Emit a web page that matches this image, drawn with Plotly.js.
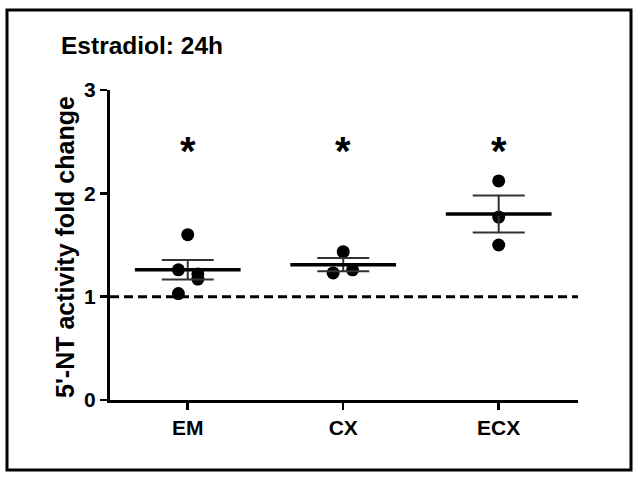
<!DOCTYPE html>
<html>
<head>
<meta charset="utf-8">
<script src="https://cdn.plot.ly/plotly-3.0.1.min.js"></script>
<style>html,body{margin:0;padding:0;background:#fff;}#chart{width:638px;height:479px;}</style>
</head>
<body>
<div id="chart"></div>
<script>
// ---- data ----
const categories = ["EM", "CX", "ECX"];
const emValues  = [1.60, 1.26, 1.22, 1.17, 1.03];
const emJitter  = [0.00, -0.06, 0.065, 0.065, -0.06];
const cxValues  = [1.435, 1.23, 1.26];
const cxJitter  = [0.00, -0.065, 0.06];
const ecxValues = [2.12, 1.77, 1.50];
const ecxJitter = [0.00, 0.00, 0.00];
const means = [1.26, 1.31, 1.80];
const sems  = [0.095, 0.065, 0.18];
const stars = ["*", "*", "*"];
const starLevel = 2.45;
const baseline = 1;
const yTicks = [0, 1, 2, 3];

const FONT = "Liberation Sans, Arial, sans-serif";
const groups = [[emValues, emJitter], [cxValues, cxJitter], [ecxValues, ecxJitter]];

const traces = [];
groups.forEach(function (g, i) {
  traces.push({
    type: "scatter", mode: "markers",
    x: g[1].map(function (j) { return i + j; }),
    y: g[0],
    marker: {color: "#000", size: 13},
    hoverinfo: "skip", showlegend: false, cliponaxis: false
  });
});
traces.push({
  type: "scatter", mode: "markers",
  x: categories.map(function (c, i) { return i; }),
  y: means,
  marker: {size: 1, opacity: 0},
  error_y: {type: "data", array: sems, visible: true, color: "#333", thickness: 2, width: 26},
  hoverinfo: "skip", showlegend: false
});
const half = 0.34;
const mx = [], my = [];
means.forEach(function (m, i) { mx.push(i - half, i + half, null); my.push(m, m, null); });
traces.push({
  type: "scatter", mode: "lines", x: mx, y: my,
  line: {color: "#000", width: 3.5}, hoverinfo: "skip", showlegend: false
});

const annotations = stars.map(function (s, i) {
  return {x: i, y: starLevel, xref: "x", yref: "y", text: s, showarrow: false, yshift: -4,
          font: {family: FONT, size: 40, color: "#000", weight: "bold"}, yanchor: "middle"};
});
annotations.push({
  text: "5'-NT activity fold change", textangle: -90, showarrow: false,
  xref: "paper", yref: "paper", x: (65 - 110) / 468, y: (400 - 247) / 310,
  xanchor: "center", yanchor: "middle",
  font: {family: FONT, size: 25, weight: "bold", color: "#000"}
});

const layout = {
  width: 638, height: 479,
  margin: {l: 110, r: 60, t: 90, b: 79},
  paper_bgcolor: "#fff", plot_bgcolor: "#fff",
  font: {family: FONT, color: "#000"},
  title: {text: "Estradiol: 24h", xref: "container", yref: "container",
          x: 61 / 638, xanchor: "left", y: 1 - 45 / 479, yanchor: "middle",
          font: {family: FONT, size: 24.5, weight: "bold", color: "#000"}},
  xaxis: {
    range: [-0.5, 2.51], tickvals: [0, 1, 2], ticktext: categories,
    showgrid: false, zeroline: false, showline: true, linewidth: 3, linecolor: "#000",
    ticks: "outside", ticklen: 7, tickwidth: 2.5, tickcolor: "#000",
    tickfont: {family: FONT, size: 21, weight: "bold", color: "#000"}
  },
  yaxis: {
    range: [0, 3], tickvals: yTicks, ticktext: yTicks.map(String),
    showgrid: false, zeroline: false, showline: true, linewidth: 3, linecolor: "#000",
    ticks: "outside", ticklen: 7, tickwidth: 2.5, tickcolor: "#000",
    tickfont: {family: FONT, size: 21, weight: "bold", color: "#000"}
  },
  shapes: [
    {type: "line", xref: "paper", yref: "y", x0: 0, x1: 1, y0: baseline, y1: baseline,
     line: {color: "#000", width: 3, dash: "9px,5px"}, layer: "below"},
    {type: "rect", xref: "paper", yref: "paper",
     x0: (7 - 110) / 468, x1: (631 - 110) / 468, y0: (400 - 470) / 310, y1: (400 - 10) / 310,
     line: {color: "#000", width: 3}, fillcolor: "rgba(0,0,0,0)", layer: "above"}
  ],
  annotations: annotations,
  showlegend: false
};

Plotly.newPlot("chart", traces, layout, {displayModeBar: false, staticPlot: true});
</script>
</body>
</html>
